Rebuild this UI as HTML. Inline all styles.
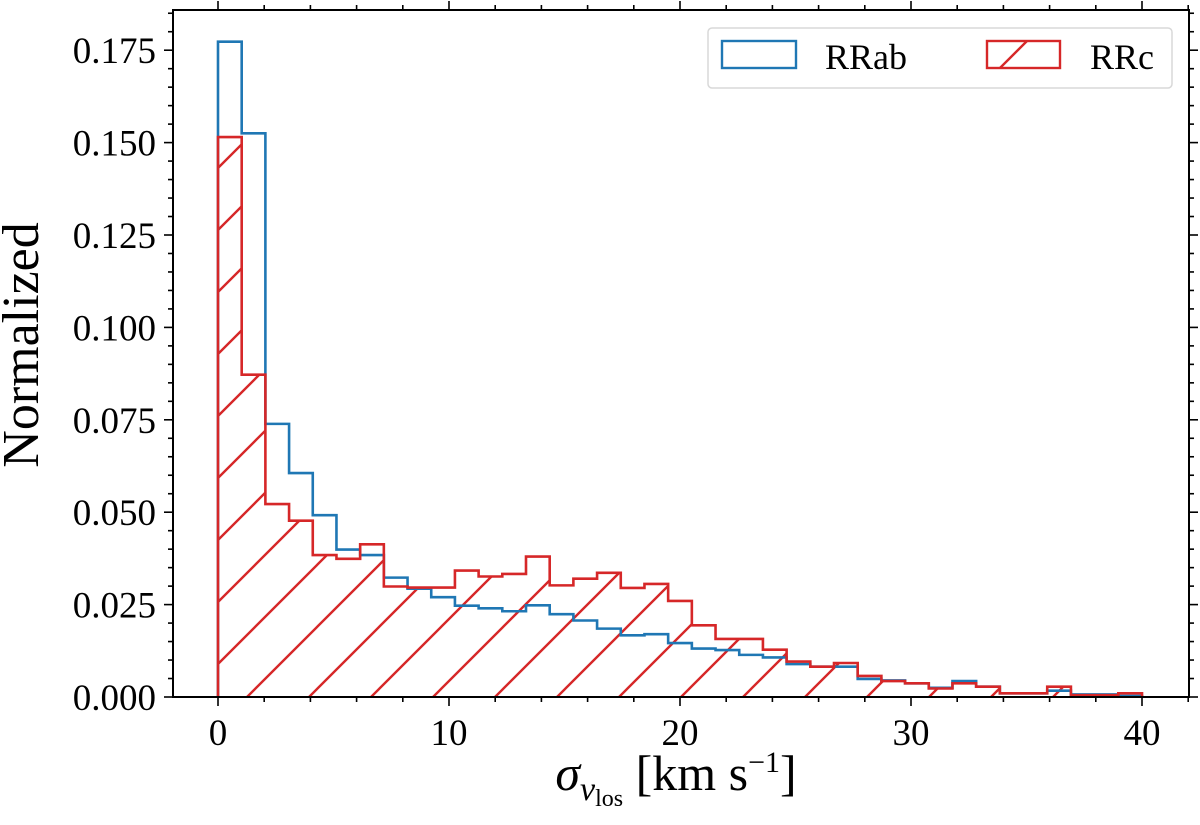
<!DOCTYPE html>
<html><head><meta charset="utf-8"><style>
body{margin:0;background:#fff;}
svg{display:block;font-family:"Liberation Serif",serif;}
</style></head><body>
<svg id="chart" width="1200" height="825" viewBox="0 0 1200 825" xmlns="http://www.w3.org/2000/svg">
<defs>
<pattern id="hatch" patternUnits="userSpaceOnUse" width="62" height="62" x="7" y="7">
<path d="M-10,72 L72,-10 M-10,10 L10,-10 M52,72 L72,52" stroke="#d62728" stroke-width="2.4"/>
</pattern>
<clipPath id="plotclip"><rect x="173" y="10" width="1016" height="687"/></clipPath>
</defs>
<g id="marks" clip-path="url(#plotclip)"></g>
<g id="axes"></g>
<g>
<rect x="708" y="28" width="464" height="60" rx="4" fill="#fff" fill-opacity="0.8" stroke="#d8d8d8" stroke-width="1.5"/>
<rect x="722" y="41" width="74" height="27" fill="none" stroke="#1f77b4" stroke-width="2.4"/>
<text x="825" y="69" font-size="36">RRab</text>
<rect x="987" y="41" width="73" height="27" fill="url(#hatch)" stroke="#d62728" stroke-width="2.4"/>
<text x="1090" y="69" font-size="36">RRc</text>
</g>
<text x="38" y="345" font-size="52" text-anchor="middle" transform="rotate(-90 38 345)">Normalized</text>
<text x="676" y="790" font-size="50" text-anchor="middle"><tspan font-style="italic">σ</tspan><tspan font-style="italic" font-size="34" dy="10">v</tspan><tspan font-size="24" dy="6">los</tspan><tspan dy="-16"> [km s</tspan><tspan font-size="30" dy="-18">−1</tspan><tspan dy="18">]</tspan></text>
</svg>
<script>
const binStart = 0;
const binEnd = 40;
const rrab = [0.1773,0.1525,0.0739,0.0606,0.0492,0.0399,0.0384,0.0323,0.0293,0.0270,0.0247,0.0240,0.0232,0.0248,0.0224,0.0207,0.0185,0.0167,0.0170,0.0146,0.0131,0.0127,0.0114,0.0107,0.0089,0.0082,0.0082,0.0049,0.0045,0.0037,0.0025,0.0043,0.0028,0.0010,0.0010,0.0017,0.0007,0.0007,0.0003];
const rrc = [0.1515,0.0872,0.0522,0.0477,0.0384,0.0374,0.0413,0.0299,0.0296,0.0296,0.0342,0.0326,0.0333,0.0380,0.0302,0.0320,0.0336,0.0295,0.0306,0.0260,0.0194,0.0157,0.0157,0.0128,0.0096,0.0082,0.0092,0.0057,0.0043,0.0037,0.0023,0.0037,0.0028,0.0010,0.0010,0.0028,0.0005,0.0005,0.0010];
const xTicks = [0,10,20,30,40];
const yTicks = [0,0.025,0.05,0.075,0.1,0.125,0.15,0.175];
const yTickLabels = ["0.000","0.025","0.050","0.075","0.100","0.125","0.150","0.175"];

const NS = "http://www.w3.org/2000/svg";
const L=173, R=1189, T=10, B=697;
const X = v => 218 + v*23.1;
const Y = v => 697 - v*3696;
function mk(tag, attrs, parent){const e=document.createElementNS(NS,tag);for(const k in attrs)e.setAttribute(k,attrs[k]);parent.appendChild(e);return e;}
function stepPath(vals){
  const n=vals.length, w=(binEnd-binStart)/n;
  let d="M"+X(binStart)+","+Y(0);
  vals.forEach((v,i)=>{d+=" L"+X(binStart+i*w)+","+Y(v)+" L"+X(binStart+(i+1)*w)+","+Y(v);});
  d+=" L"+X(binEnd)+","+Y(0);
  return d;
}
const marks=document.getElementById('marks');
const pr=mk('path',{d:stepPath(rrc)+" Z",fill:"url(#hatch)",stroke:"none"},marks);


const pb=mk('path',{d:stepPath(rrab),fill:"none",stroke:"#1f77b4","stroke-width":2.6},marks);


const pr2=mk('path',{d:stepPath(rrc),fill:"none",stroke:"#d62728","stroke-width":2.6},marks);



const ax=document.getElementById('axes');
const frame=mk('rect',{x:L,y:T,width:R-L,height:B-T,fill:"none",stroke:"#000","stroke-width":2},ax);


const ts={stroke:"#000","stroke-width":1.6};
for(let v=-2; v<=42; v+=2){
  const x=X(v); if(x<L||x>R) continue;
  const maj = v%10===0; const len=maj?9:5;
  mk('line',Object.assign({x1:x,x2:x,y1:B,y2:B+len},ts),ax);
  mk('line',Object.assign({x1:x,x2:x,y1:T,y2:T-len},ts),ax);
}
xTicks.forEach(v=>{
  const t=mk('text',{x:X(v),y:745,"font-size":37,"text-anchor":"middle"},ax);
  t.textContent=v;
  
  
});
for(let k=0;k<=37;k++){
  const v=k*0.005, y=Y(v); if(y<T) continue;
  const len = k%5===0?9:5;
  mk('line',Object.assign({x1:L,x2:L-len,y1:y,y2:y},ts),ax);
  mk('line',Object.assign({x1:R,x2:R+len,y1:y,y2:y},ts),ax);
}
yTicks.forEach((v,i)=>{
  const t=mk('text',{x:156,y:Y(v)+13,"font-size":37,"text-anchor":"end"},ax);
  t.textContent=yTickLabels[i];
  
  
});
</script>
</body></html>
